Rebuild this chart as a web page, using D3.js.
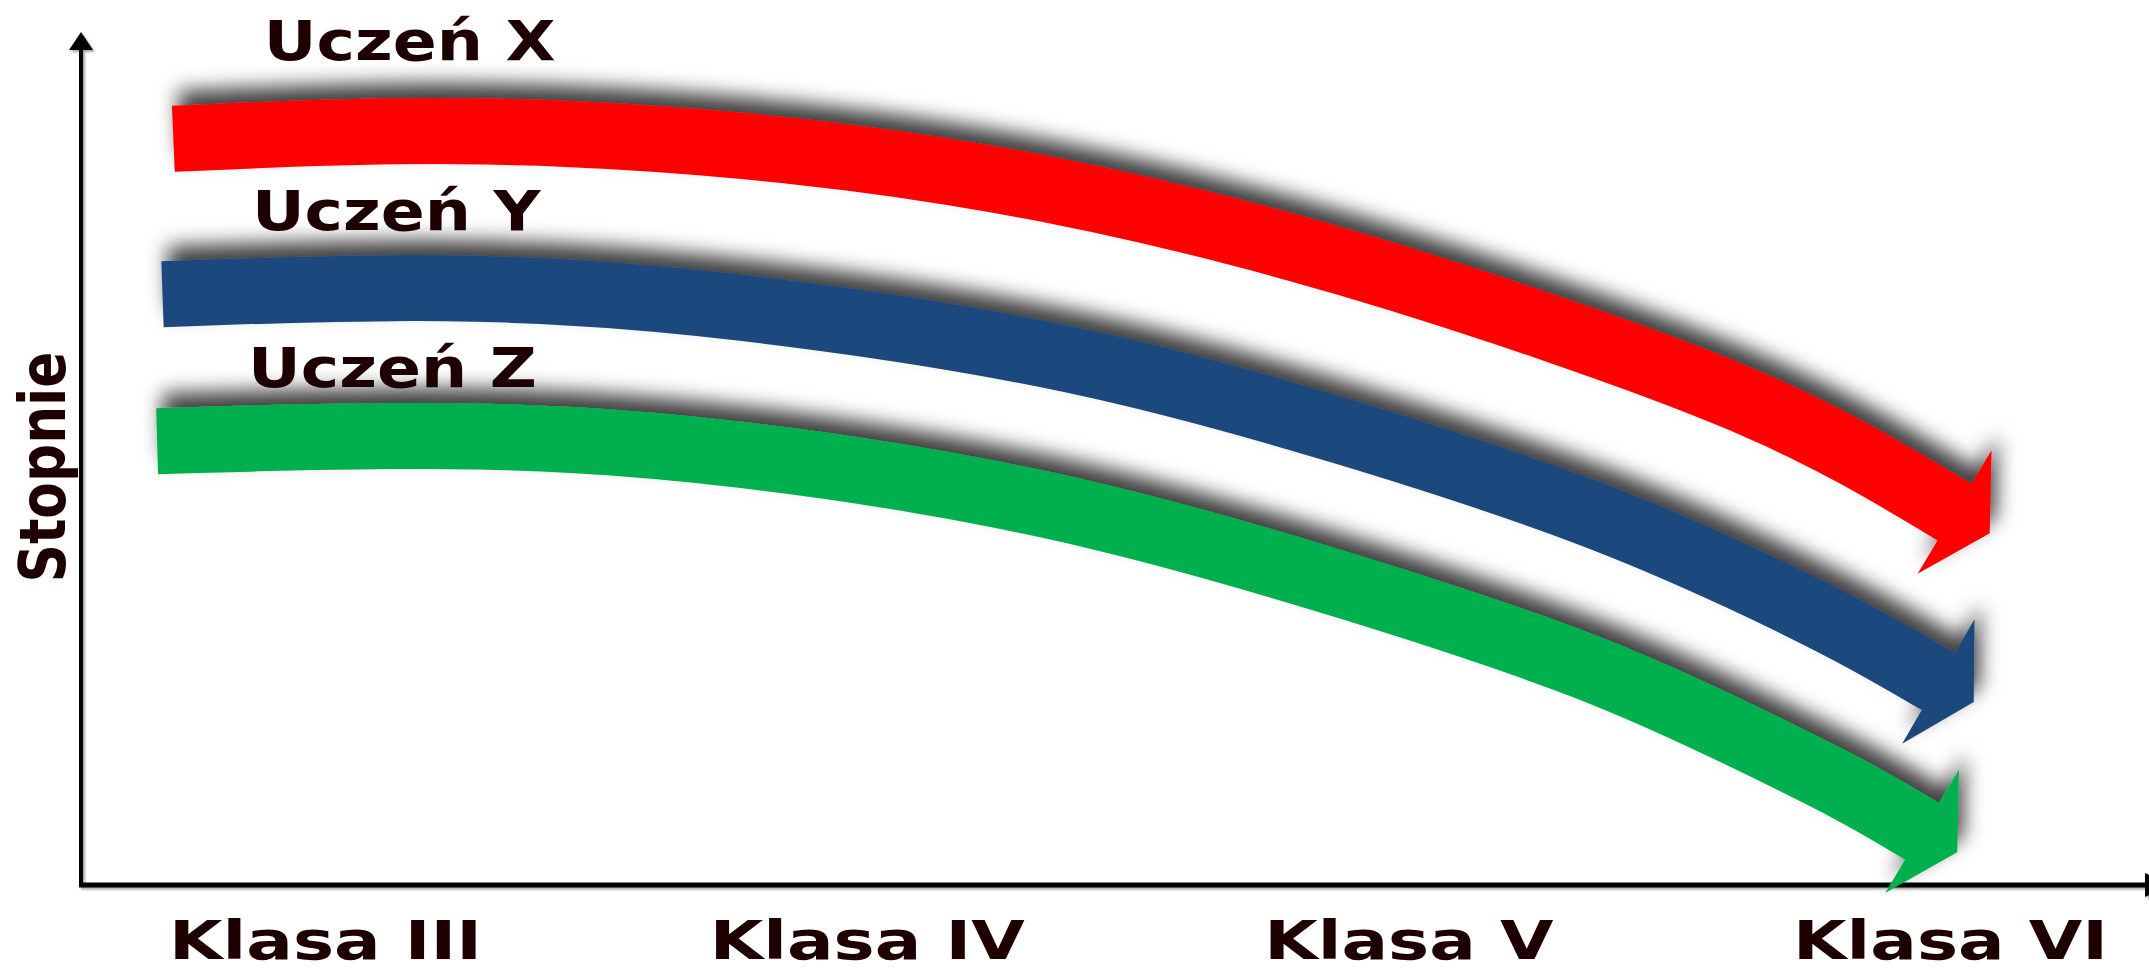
<!DOCTYPE html>
<html>
<head>
<meta charset="utf-8">
<script src="https://cdn.jsdelivr.net/npm/d3@7"></script>
<style>
  body { margin: 0; background: #fff; }
  .etykieta { font-family: "DejaVu Sans", Verdana, sans-serif; font-weight: bold; fill: #1e0000; }
</style>
</head>
<body>
<div id="wykres"></div>
<script>
// data
// x = position in classes (0 = Klasa III ... 3 = Klasa VI), y = grade level
var klasy = ["Klasa III", "Klasa IV", "Klasa V", "Klasa VI"];
var uczniowie = ["Uczeń X", "Uczeń Y", "Uczeń Z"];

var klasaX = [-0.28, 0.14, 0.51, 0.97, 1.43, 1.89, 2.35, 2.63, 2.82, 3.01];
var stopnieX = [5.33, 5.40, 5.37, 5.22, 4.92, 4.46, 3.87, 3.46, 3.10, 2.66];

var klasaY = [-0.30, 0.14, 0.51, 0.97, 1.43, 1.89, 2.35, 2.63, 2.82, 2.98];
var stopnieY = [4.22, 4.28, 4.24, 4.04, 3.74, 3.24, 2.66, 2.17, 1.81, 1.45];

var klasaZ = [-0.31, 0.14, 0.51, 0.97, 1.43, 1.89, 2.35, 2.63, 2.82, 2.95];
var stopnieZ = [3.17, 3.22, 3.19, 2.99, 2.66, 2.14, 1.56, 1.04, 0.68, 0.38];

// where each name label sits [klasa, stopień]
var etykietyKlasa = [-0.113, -0.135, -0.142];
var etykietyStopien = [5.89, 4.68, 3.56];

var kolory = ["#ff0000", "#1f497d", "#00b050"];

var punkty = [
  klasaX.map(function(k, i) { return [k, stopnieX[i]]; }),
  klasaY.map(function(k, i) { return [k, stopnieY[i]]; }),
  klasaZ.map(function(k, i) { return [k, stopnieZ[i]]; })
];

var svgWidth = 2149;
var svgHeight = 971;

var svg = d3.select("#wykres").append("svg")
  .attr("width", svgWidth).attr("height", svgHeight);

var defs = svg.append("defs");
defs.append("filter").attr("id", "cien")
  .attr("x", "-10%").attr("y", "-35%").attr("width", "120%").attr("height", "170%")
  .append("feDropShadow")
  .attr("dx", 6).attr("dy", -15).attr("stdDeviation", 10)
  .attr("flood-color", "#000").attr("flood-opacity", 0.75);
defs.append("filter").attr("id", "cienOsi")
  .attr("x", "-5%").attr("y", "-5%").attr("width", "110%").attr("height", "110%")
  .append("feDropShadow")
  .attr("dx", 2).attr("dy", 2).attr("stdDeviation", 1)
  .attr("flood-color", "#000").attr("flood-opacity", 0.35);

// scales
var xScale = d3.scaleLinear().domain([0, 3]).range([325, 1950]);
var yScale = d3.scaleLinear().domain([0, 6]).range([885, 45]);

var osX0 = 81, osY0 = 885;

// axes with arrows
var osie = svg.append("g").attr("filter", "url(#cienOsi)");
osie.append("line")
  .attr("x1", osX0).attr("y1", osY0 + 2).attr("x2", osX0).attr("y2", 48)
  .attr("stroke", "#000").attr("stroke-width", 4);
osie.append("path")
  .attr("d", `M${osX0},32 L${osX0 - 12},50 L${osX0 + 12},50 Z`).attr("fill", "#000");
osie.append("line")
  .attr("x1", osX0 - 2).attr("y1", osY0).attr("x2", 2146).attr("y2", osY0)
  .attr("stroke", "#000").attr("stroke-width", 5);
osie.append("path")
  .attr("d", `M2172,${osY0} L2145,${osY0 - 12} L2145,${osY0 + 12} Z`).attr("fill", "#000");

// class labels under the axis
var bottomAxis = d3.axisBottom(xScale).tickValues([0, 1, 2, 3])
  .tickFormat(function(d) { return klasy[d]; }).tickSize(0);
var gX = svg.append("g").attr("transform", `translate(0, ${osY0})`).call(bottomAxis);
gX.select(".domain").remove();
gX.selectAll("text")
  .attr("class", "etykieta")
  .attr("y", 0).attr("dy", 0)
  .attr("transform", "translate(0, 74) scale(1.28, 1)")
  .style("font-size", "54px")
  .style("font-family", "'DejaVu Sans', Verdana, sans-serif").style("font-weight", "bold")
  .attr("fill", "#1e0000");

// y axis title
svg.append("text").attr("class", "etykieta")
  .attr("transform", "translate(65, 467) rotate(-90)")
  .attr("text-anchor", "middle")
  .attr("textLength", 231).attr("lengthAdjust", "spacingAndGlyphs")
  .style("font-size", "64px")
  .text("Stopnie");

// curved arrows
var linia = d3.line()
  .x(function(d) { return xScale(d[0]); })
  .y(function(d) { return yScale(d[1]); })
  .curve(d3.curveBasis);

var grubosc = 66;

punkty.forEach(function(p, i) {
  var g = svg.append("g").attr("filter", "url(#cien)");
  var sciezka = g.append("path")
    .attr("d", linia(p))
    .attr("fill", "none")
    .attr("stroke", kolory[i])
    .attr("stroke-width", grubosc)
    .attr("stroke-linecap", "butt");

  // arrow head at the end of the path
  var node = sciezka.node();
  var L = node.getTotalLength();
  var p1 = node.getPointAtLength(L);
  var p0 = node.getPointAtLength(L - 3);
  var dx = p1.x - p0.x, dy = p1.y - p0.y;
  var len = Math.sqrt(dx * dx + dy * dy);
  var ux = dx / len, uy = dy / len;
  var nx = -uy, ny = ux;
  var polowa = 72, dlugosc = 40;
  var grot = [
    [p1.x - ux + nx * polowa, p1.y - uy + ny * polowa],
    [p1.x + ux * dlugosc, p1.y + uy * dlugosc],
    [p1.x - ux - nx * polowa, p1.y - uy - ny * polowa]
  ];
  g.append("path")
    .attr("d", "M" + grot.map(function(q) { return q.join(","); }).join("L") + "Z")
    .attr("fill", kolory[i]);
});

// name labels
svg.selectAll(".imie").data(uczniowie).enter().append("text")
  .attr("class", "etykieta imie")
  .attr("transform", function(d, i) {
    return `translate(${xScale(etykietyKlasa[i])}, ${yScale(etykietyStopien[i])}) scale(1.18, 1)`;
  })
  .style("font-size", "55px")
  .text(function(d) { return d; });
</script>
</body>
</html>
